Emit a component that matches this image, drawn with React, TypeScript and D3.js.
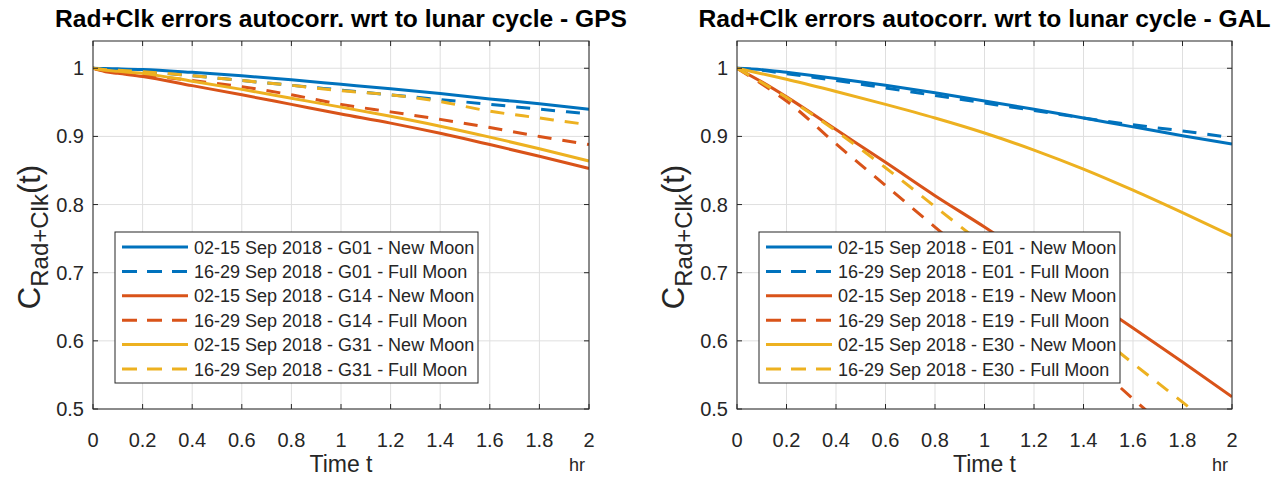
import React from "react";
import * as d3 from "d3";

const tGps = [0, 0.05, 0.1, 0.2, 0.4, 0.6, 0.8, 1.0, 1.2, 1.4, 1.6, 1.8, 2.0];
const g01New = [1, 0.9996, 0.9992, 0.9982, 0.994, 0.989, 0.983, 0.9765, 0.97, 0.963, 0.955, 0.948, 0.94];
const g01Full = [1, 0.998, 0.997, 0.995, 0.989, 0.982, 0.975, 0.968, 0.961, 0.954, 0.947, 0.94, 0.933];
const g14New = [1, 0.995, 0.9925, 0.988, 0.9745, 0.961, 0.947, 0.933, 0.9195, 0.9045, 0.888, 0.871, 0.853];
const g14Full = [1, 0.996, 0.994, 0.99, 0.982, 0.973, 0.961, 0.947, 0.936, 0.925, 0.913, 0.9, 0.888];
const g31New = [1, 0.997, 0.9955, 0.9925, 0.981, 0.969, 0.956, 0.943, 0.9295, 0.915, 0.899, 0.882, 0.864];
const g31Full = [1, 0.998, 0.997, 0.995, 0.989, 0.982, 0.975, 0.967, 0.961, 0.951, 0.937, 0.927, 0.917];

const tGal = [0, 0.1, 0.2, 0.4, 0.6, 0.8, 1.0, 1.2, 1.4, 1.6, 1.8, 2.0];
const e01New = [1, 0.998, 0.994, 0.985, 0.975, 0.964, 0.952, 0.94, 0.927, 0.914, 0.901, 0.889];
const e01Full = [1, 0.997, 0.992, 0.982, 0.971, 0.96, 0.949, 0.938, 0.927, 0.917, 0.908, 0.898];
const e19New = [1, 0.98, 0.958, 0.91, 0.862, 0.813, 0.767, 0.718, 0.668, 0.619, 0.569, 0.518];
const e19Full = [1, 0.977, 0.952, 0.889, 0.828, 0.767, 0.706, 0.644, 0.58, 0.515, 0.452, 0.39];
const e30New = [1, 0.992, 0.984, 0.966, 0.947, 0.927, 0.905, 0.88, 0.852, 0.821, 0.788, 0.754];
const e30Full = [1, 0.979, 0.957, 0.908, 0.854, 0.797, 0.74, 0.683, 0.625, 0.567, 0.51, 0.452];

const xTicks = [0, 0.2, 0.4, 0.6, 0.8, 1, 1.2, 1.4, 1.6, 1.8, 2];
const yTicks = [0.5, 0.6, 0.7, 0.8, 0.9, 1];

const gpsLabels = [
  "02-15 Sep 2018 - G01 - New Moon",
  "16-29 Sep 2018 - G01 - Full Moon",
  "02-15 Sep 2018 - G14 - New Moon",
  "16-29 Sep 2018 - G14 - Full Moon",
  "02-15 Sep 2018 - G31 - New Moon",
  "16-29 Sep 2018 - G31 - Full Moon",
];
const galLabels = [
  "02-15 Sep 2018 - E01 - New Moon",
  "16-29 Sep 2018 - E01 - Full Moon",
  "02-15 Sep 2018 - E19 - New Moon",
  "16-29 Sep 2018 - E19 - Full Moon",
  "02-15 Sep 2018 - E30 - New Moon",
  "16-29 Sep 2018 - E30 - Full Moon",
];

const COLORS = ["#0072BD", "#0072BD", "#D95319", "#D95319", "#EDB120", "#EDB120"];
const DASHED = [false, true, false, true, false, true];
const FONT = "'Liberation Sans', Arial, Helvetica, sans-serif";
const AX = "#262626";

type PanelProps = {
  id: string;
  x0: number;
  x1: number;
  title: string;
  t: number[];
  series: number[][];
  labels: string[];
  legendX: number;
  legendW: number;
};

function Panel({ id, x0, x1, title, t, series, labels, legendX, legendW }: PanelProps) {
  const yTop = 41;
  const yBot = 409;
  const xs = d3.scaleLinear().domain([0, 2]).range([x0, x1]);
  const ys = d3.scaleLinear().domain([0.5, 1.04]).range([yBot, yTop]);
  const line = d3
    .line<number>()
    .x((_, i) => xs(t[i]))
    .y((d) => ys(d))
    .curve(d3.curveMonotoneX);
  const cx = (x0 + x1) / 2;
  const tick = 5;
  const legTop = 232;
  const legH = 151;
  const rowH = 24.4;
  const row0 = 247;
  return (
    <g>
      <defs>
        <clipPath id={id}>
          <rect x={x0} y={yTop} width={x1 - x0} height={yBot - yTop} />
        </clipPath>
      </defs>
      <rect x={x0} y={yTop} width={x1 - x0} height={yBot - yTop} fill="#fff" />
      {xTicks.map((v) => (
        <line key={"gx" + v} x1={xs(v)} x2={xs(v)} y1={yTop} y2={yBot} stroke="#dfdfdf" strokeWidth={1} />
      ))}
      {yTicks.map((v) => (
        <line key={"gy" + v} x1={x0} x2={x1} y1={ys(v)} y2={ys(v)} stroke="#dfdfdf" strokeWidth={1} />
      ))}
      <g clipPath={`url(#${id})`}>
        {series.map((s, i) => (
          <path
            key={"s" + i}
            d={line(s) || ""}
            fill="none"
            stroke={COLORS[i]}
            strokeWidth={3}
            strokeDasharray={DASHED[i] ? "14,11" : undefined}
            strokeLinejoin="round"
          />
        ))}
      </g>
      <rect x={x0} y={yTop} width={x1 - x0} height={yBot - yTop} fill="none" stroke={AX} strokeWidth={1} />
      {xTicks.map((v) => (
        <g key={"tx" + v}>
          <line x1={xs(v)} x2={xs(v)} y1={yBot} y2={yBot - tick} stroke={AX} />
          <line x1={xs(v)} x2={xs(v)} y1={yTop} y2={yTop + tick} stroke={AX} />
          <text x={xs(v)} y={447} textAnchor="middle" fontSize={20} fill={AX} fontFamily={FONT}>
            {String(v)}
          </text>
        </g>
      ))}
      {yTicks.map((v) => (
        <g key={"ty" + v}>
          <line x1={x0} x2={x0 + tick} y1={ys(v)} y2={ys(v)} stroke={AX} />
          <line x1={x1} x2={x1 - tick} y1={ys(v)} y2={ys(v)} stroke={AX} />
          <text x={x0 - 9} y={ys(v) + 7} textAnchor="end" fontSize={20} fill={AX} fontFamily={FONT}>
            {String(v)}
          </text>
        </g>
      ))}
      <text x={cx} y={27} textAnchor="middle" fontSize={24.6} fontWeight="bold" fill="#000" fontFamily={FONT}>
        {title}
      </text>
      <text x={cx} y={472} textAnchor="middle" fontSize={23} fill={AX} fontFamily={FONT}>
        Time t
      </text>
      <text x={x1 - 12} y={471} textAnchor="middle" fontSize={18} fill={AX} fontFamily={FONT}>
        hr
      </text>
      <text
        transform={`translate(${x0 - 53},${237}) rotate(-90)`}
        textAnchor="middle"
        fontSize={31}
        fill={AX}
        fontFamily={FONT}
      >
        <tspan>C</tspan>
        <tspan fontSize={24} dy={8}>
          Rad+Clk
        </tspan>
        <tspan dy={-8}>(t)</tspan>
      </text>
      <rect x={legendX} y={legTop} width={legendW} height={legH} fill="#fff" stroke={AX} strokeWidth={1} />
      {labels.map((lab, i) => (
        <g key={"lg" + i}>
          <line
            x1={legendX + 7}
            x2={legendX + 73}
            y1={row0 + i * rowH}
            y2={row0 + i * rowH}
            stroke={COLORS[i]}
            strokeWidth={3}
            strokeDasharray={DASHED[i] ? "15,10" : undefined}
          />
          <text x={legendX + 79} y={row0 + i * rowH + 6.5} fontSize={18} fill={AX} fontFamily={FONT}>
            {lab}
          </text>
        </g>
      ))}
    </g>
  );
}

export default function App() {
  return (
    <svg
      width={1280}
      height={479}
      style={{ position: "absolute", left: 0, top: 0, background: "#fff" }}
      xmlns="http://www.w3.org/2000/svg"
    >
      <rect x={0} y={0} width={1280} height={479} fill="#fff" />
      <Panel
        id="clipGps"
        x0={93}
        x1={589}
        title="Rad+Clk errors autocorr. wrt to lunar cycle - GPS"
        t={tGps}
        series={[g01New, g01Full, g14New, g14Full, g31New, g31Full]}
        labels={gpsLabels}
        legendX={115}
        legendW={363}
      />
      <Panel
        id="clipGal"
        x0={737}
        x1={1232}
        title="Rad+Clk errors autocorr. wrt to lunar cycle - GAL"
        t={tGal}
        series={[e01New, e01Full, e19New, e19Full, e30New, e30Full]}
        labels={galLabels}
        legendX={759}
        legendW={361}
      />
    </svg>
  );
}
